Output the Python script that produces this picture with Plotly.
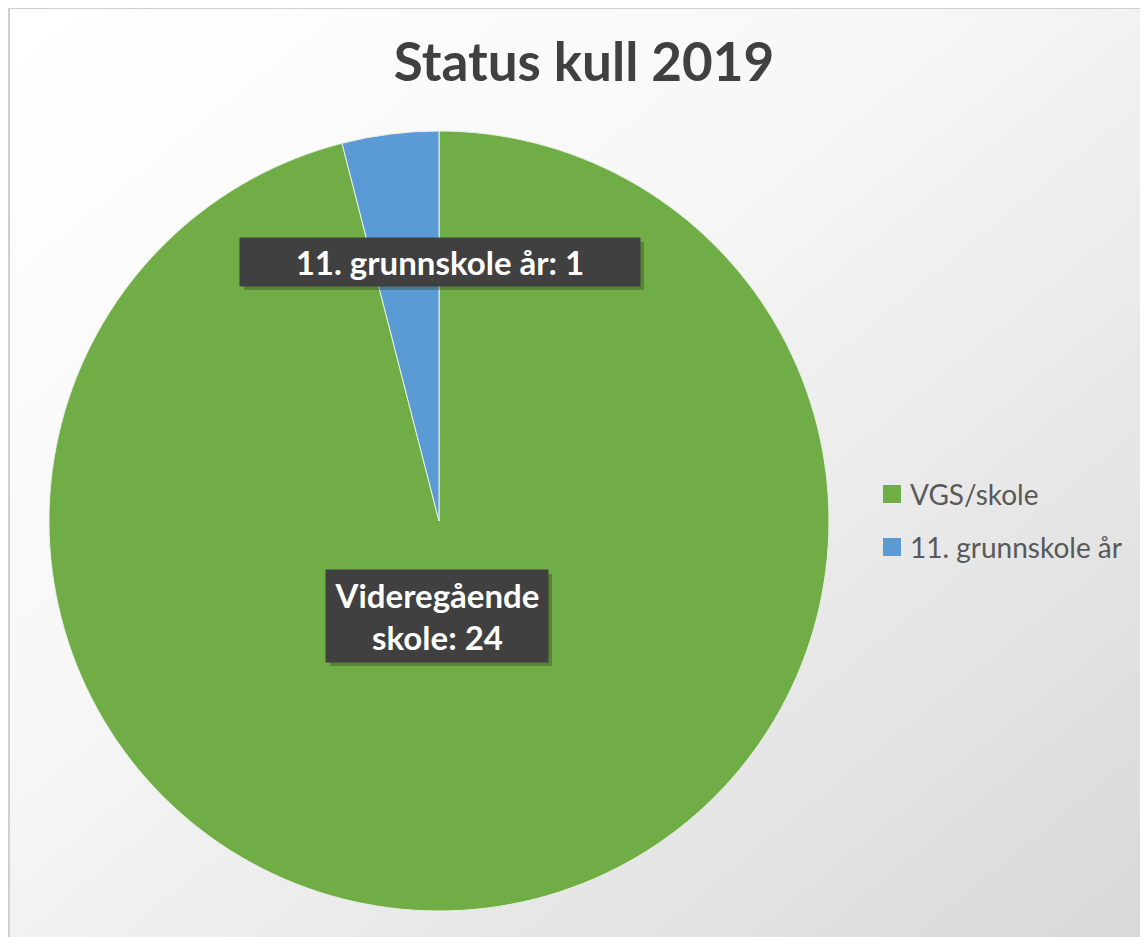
import base64
import plotly.graph_objects as go

categories = ["VGS/skole", "11. grunnskole år"]
values = [24, 1]
colors = ["#70AD47", "#5B9BD5"]
label_texts = ["Videregående<br>skole: 24", "11. grunnskole år: 1"]
title_text = "Status kull 2019"

# figure is placed by the page at an 8px body offset
OFF = 8
W, H = 1148 - OFF, 937 - OFF


def px(x):
    return (x - OFF) / W


def py(y):
    return 1 - (y - OFF) / H


svg = f'''<svg xmlns="http://www.w3.org/2000/svg" width="{W}" height="{H}">
<defs><linearGradient id="g" x1="0" y1="0" x2="1" y2="1">
<stop offset="0" stop-color="#ffffff"/><stop offset="0.4" stop-color="#f7f7f7"/>
<stop offset="1" stop-color="#d8d8d8"/></linearGradient></defs>
<rect x="0" y="0" width="{W}" height="{H}" fill="url(#g)"/></svg>'''
bg_src = "data:image/svg+xml;base64," + base64.b64encode(svg.encode()).decode()

fig = go.Figure()
fig.add_trace(go.Pie(
    labels=categories,
    values=values,
    marker=dict(colors=colors, line=dict(color="#e8f0e0", width=1)),
    sort=False,
    direction="clockwise",
    rotation=0,
    textinfo="none",
    hoverinfo="label+value",
    showlegend=False,
    domain=dict(x=[px(48), px(830)], y=[py(911), py(131)]),
))

shapes = []
# shadows behind the data label boxes
for (x0, y0, x1, y1) in [(240, 238, 640, 286), (326, 570, 548, 662)]:
    shapes.append(dict(type="rect", xref="paper", yref="paper",
                       x0=px(x0 + 4), x1=px(x1 + 4), y0=py(y1 + 4), y1=py(y0 + 4),
                       line=dict(width=0), fillcolor="rgba(40,60,20,0.35)", layer="above"))
# legend squares
for i, c in enumerate(colors):
    top = 485 + i * 53
    shapes.append(dict(type="rect", xref="paper", yref="paper",
                       x0=px(883), x1=px(901), y0=py(top + 18), y1=py(top),
                       line=dict(width=0), fillcolor=c))
# chart border
shapes.append(dict(type="rect", xref="paper", yref="paper", x0=px(9), y0=-0.01, x1=1.01, y1=1,
                   line=dict(color="#d0d0d0", width=2), fillcolor="rgba(0,0,0,0)", layer="above"))

# data labels (boxes)
fig.add_annotation(x=px(437), y=py(616), xref="paper", yref="paper",
                   text=label_texts[0], showarrow=False, width=222, height=92,
                   font=dict(family="Lato", size=33, color="#ffffff", weight="bold"),
                   bgcolor="#404040", borderpad=0, align="center",
                   xanchor="center", yanchor="middle")
fig.add_annotation(x=px(440), y=py(262), xref="paper", yref="paper",
                   text=label_texts[1], showarrow=False, width=400, height=48,
                   font=dict(family="Lato", size=33, color="#ffffff", weight="bold"),
                   bgcolor="#404040", borderpad=0, align="center",
                   xanchor="center", yanchor="middle")

# legend entries
for i, name in enumerate(categories):
    fig.add_annotation(x=px(908), y=py(494 + i * 53), xref="paper", yref="paper",
                       text=name, showarrow=False, xanchor="left", yanchor="middle",
                       font=dict(family="Lato", size=28, color="#595959"))

fig.update_layout(
    width=W, height=H,
    margin=dict(l=0, r=0, t=0, b=0),
    paper_bgcolor="#eeeeee",
    title=dict(text=title_text, x=px(584), xanchor="center", y=py(62), yanchor="middle",
               font=dict(family="Lato", size=53, color="#404040", weight="bold")),
    showlegend=False,
    images=[dict(source=bg_src, xref="paper", yref="paper", x=0, y=1,
                 sizex=1, sizey=1, xanchor="left", yanchor="top",
                 sizing="stretch", layer="below")],
    shapes=shapes,
)

fig.write_html("out.html")
